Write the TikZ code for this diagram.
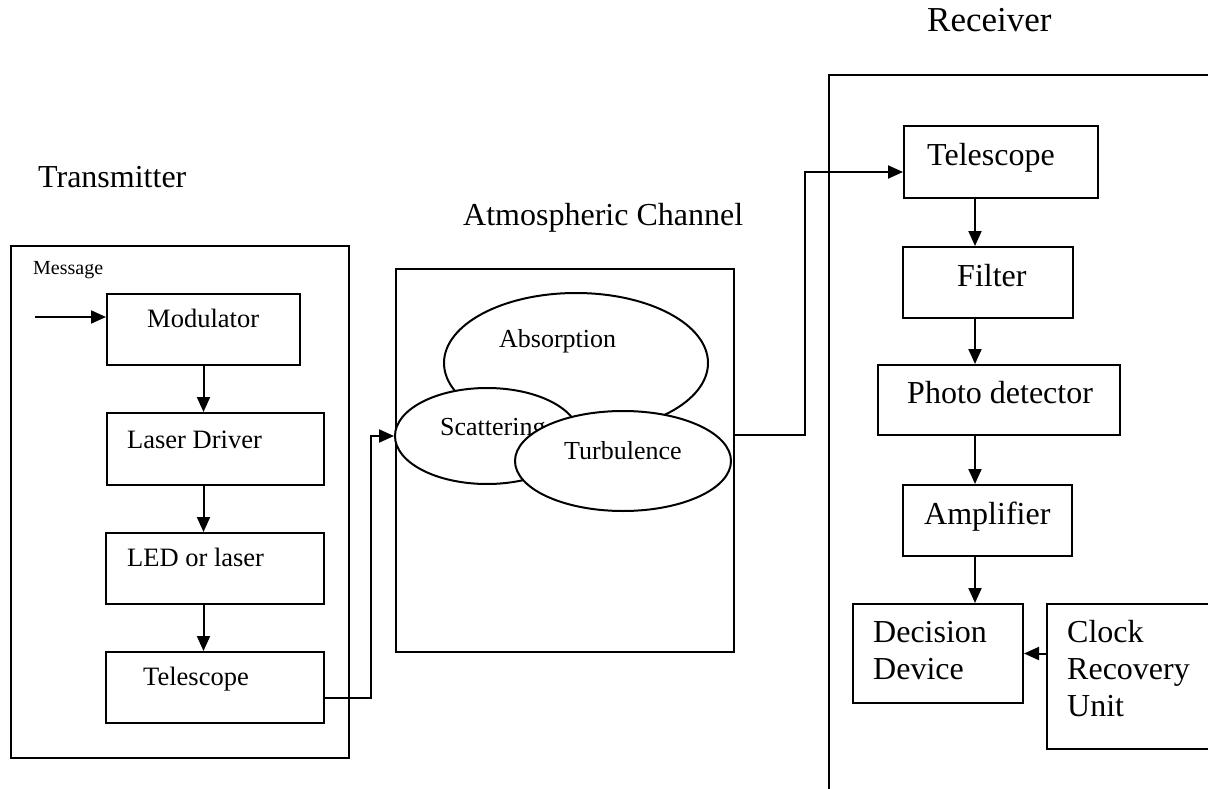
\documentclass[tikz,border=0pt]{standalone}
\usepackage{fontspec}
\setmainfont{Liberation Serif}
\usetikzlibrary{arrows.meta,shapes.geometric}
\tikzset{
  box/.style={draw, line width=2pt, rectangle, inner sep=0pt, anchor=north west},
  lbl/.style={inner sep=0pt, anchor=base west},
  blob/.style={draw, ellipse, fill=white, line width=2pt, inner sep=0pt},
  flow/.style={line width=2pt, -{Triangle[length=15pt,width=13pt]}},
  wire/.style={line width=2pt},
  title/.style={lbl, font=\fontsize{32}{36}\selectfont},
  txfont/.style={lbl, font=\fontsize{26.5}{30}\selectfont},
  rxfont/.style={lbl, font=\fontsize{32}{37}\selectfont},
}
\begin{document}
\begin{tikzpicture}[x=1pt, y=1pt]
  \clip (0,0) rectangle (1208,-789);
  \fill[white] (0,0) rectangle (1208,-789);

  % section titles
  \node[title] (ttx) at (38,-187) {Transmitter};
  \node[title] (tch) at (463,-225) {Atmospheric Channel};
  \node[lbl, font=\fontsize{35}{40}\selectfont] (trx) at (927,-32) {Receiver};

  % ---------------- transmitter ----------------
  \node[box, minimum width=338pt, minimum height=512pt] (txbox) at (10,-245) {};
  \node[lbl, font=\fontsize{20}{24}\selectfont] (msg) at (33,-274) {Message};

  \node[box, minimum width=193pt, minimum height=71pt] (mod) at (106,-293) {};
  \node[txfont] (lmod) at (147,-327) {Modulator};
  \node[box, minimum width=217pt, minimum height=72pt] (drv) at (106,-412) {};
  \node[txfont] (ldrv) at (127,-448) {Laser Driver};
  \node[box, minimum width=218pt, minimum height=71pt] (led) at (105,-532) {};
  \node[txfont] (lled) at (127,-566) {LED or laser};
  \node[box, minimum width=218pt, minimum height=71pt] (tel) at (105,-651) {};
  \node[txfont] (ltel) at (143,-685) {Telescope};

  \coordinate (msgin) at (35,-317);
  \draw[flow] (msgin) -- (msgin -| mod.west);
  \draw[flow] (mod.south) -- (mod.south |- drv.north);
  \draw[flow] (drv.south -| mod.south) -- (led.north -| mod.south);
  \draw[flow] (led.south -| mod.south) -- (tel.north -| mod.south);

  % ---------------- atmospheric channel ----------------
  \node[box, minimum width=338pt, minimum height=383pt] (atm) at (395,-268) {};
  \node[blob, minimum width=264pt, minimum height=140pt] (abs) at (576,-363) {};
  \node[lbl, font=\fontsize{26}{30}\selectfont] (labs) at (499,-347) {Absorption};
  \node[blob, minimum width=184pt, minimum height=96pt] (scat) at (487,-436) {};
  \node[lbl, font=\fontsize{26}{30}\selectfont] (lscat) at (440,-435) {Scattering};
  \node[blob, minimum width=216pt, minimum height=100pt] (turb) at (623,-461) {};
  \node[lbl, font=\fontsize{26}{30}\selectfont] (lturb) at (564,-459) {Turbulence};

  \coordinate (txout) at (323,-698);
  \draw[flow] (txout) -- (371,-698) |- (scat.west);

  % ---------------- receiver ----------------
  \draw[wire] (829,-800) -- (829,-75) -- (1220,-75);

  \node[box, minimum width=194pt, minimum height=72pt] (rtel) at (903,-125) {};
  \node[rxfont] (lrtel) at (927,-166) {Telescope};
  \node[box, minimum width=170pt, minimum height=71pt] (filt) at (902,-246) {};
  \node[rxfont] (lfilt) at (957,-286) {Filter};
  \node[box, minimum width=242pt, minimum height=70pt] (pd) at (877,-364) {};
  \node[rxfont] (lpd) at (907,-403) {Photo detector};
  \node[box, minimum width=169pt, minimum height=71pt] (amp) at (902,-484) {};
  \node[rxfont] (lamp) at (924,-524) {Amplifier};
  \node[box, minimum width=170pt, minimum height=99pt] (dec) at (852,-603) {};
  \node[rxfont, align=left] (ldec) at (873,-679) {Decision\\Device};
  \node[box, minimum width=175pt, minimum height=145pt] (clk) at (1046,-603) {};
  \node[rxfont, align=left] (lclk) at (1067,-716) {Clock\\Recovery\\Unit};

  \coordinate (chout) at (733,-435);
  \coordinate (rxin) at (903,-172);
  \draw[flow] (chout) -- (805,-435) |- (rxin);

  \draw[flow] (rtel.south -| 975,0) -- (filt.north -| 975,0);
  \draw[flow] (filt.south -| 975,0) -- (pd.north -| 975,0);
  \draw[flow] (pd.south -| 975,0) -- (amp.north -| 975,0);
  \draw[flow] (amp.south -| 975,0) -- (dec.north -| 975,0);
  \draw[flow] (clk.west |- dec.east) -- (dec.east);
\end{tikzpicture}
\end{document}
